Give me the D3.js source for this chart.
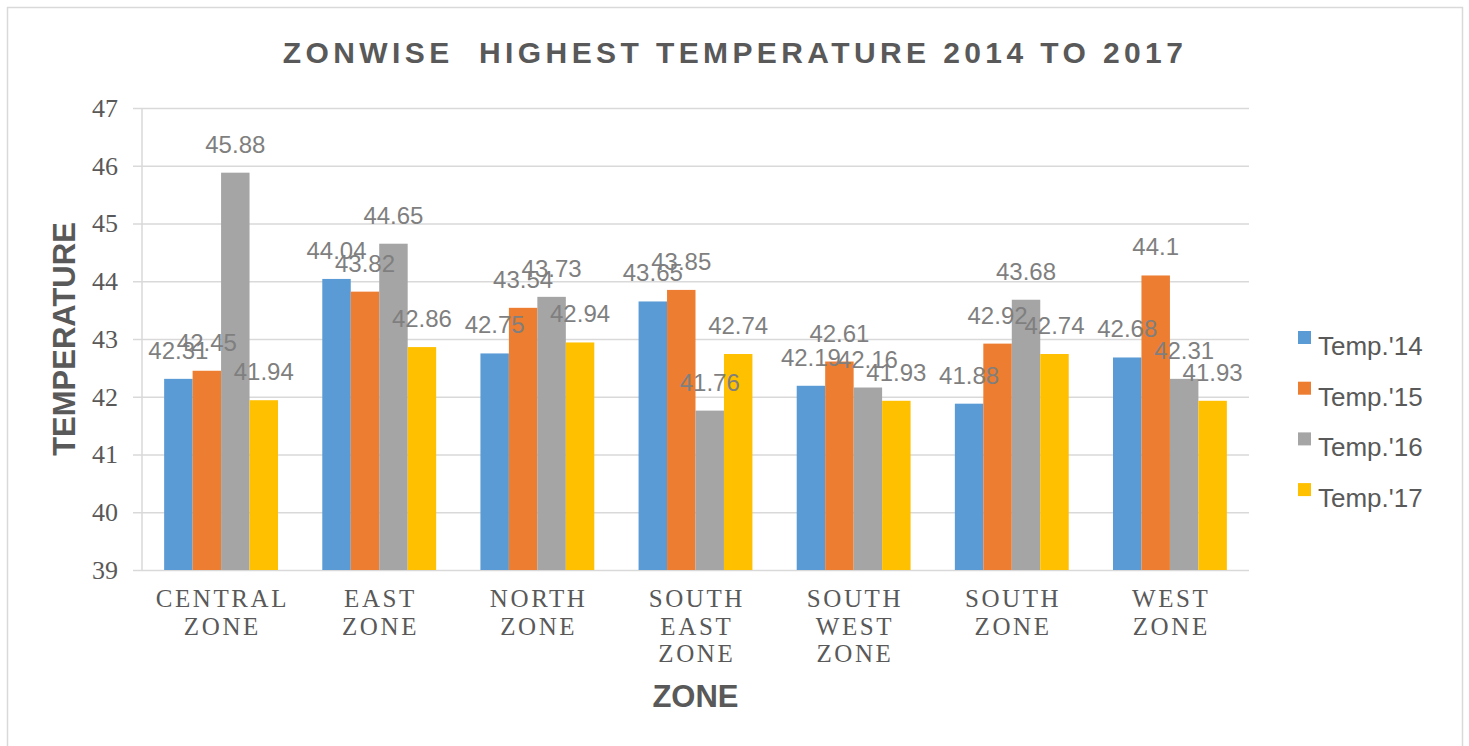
<!DOCTYPE html>
<html><head><meta charset="utf-8">
<script src="https://cdn.jsdelivr.net/npm/d3@7"></script>
<style>
html,body{margin:0;padding:0;background:#fff;}
svg{display:block;}
</style></head>
<body>
<svg id="chart" width="1469" height="746"></svg>
<script>
const categories = ["CENTRAL ZONE","EAST ZONE","NORTH ZONE","SOUTH EAST ZONE","SOUTH WEST ZONE","SOUTH ZONE","WEST ZONE"];
const seriesNames = ["Temp.'14","Temp.'15","Temp.'16","Temp.'17"];
const temp14 = [42.31,44.04,42.75,43.65,42.19,41.88,42.68];
const temp15 = [42.45,43.82,43.54,43.85,42.61,42.92,44.1];
const temp16 = [45.88,44.65,43.73,41.76,42.16,43.68,42.31];
const temp17 = [41.94,42.86,42.94,42.74,41.93,42.74,41.93];
const yTicks = [39,40,41,42,43,44,45,46,47];
const colors = ["#5B9BD5","#ED7D31","#A5A5A5","#FFC000"];
const titleText = "ZONWISE\u00A0\u00A0HIGHEST TEMPERATURE 2014 TO 2017";

(function(){
const seriesValues = [temp14,temp15,temp16,temp17];
const svg = d3.select("#chart");
const sans = "'Liberation Sans', Arial, sans-serif";
const serif = "'Liberation Serif', 'Times New Roman', serif";
const textCol = "#595959";

// outer border
svg.append("rect").attr("x",7.5).attr("y",7.5).attr("width",1455).attr("height",760)
  .attr("fill","#fff").attr("stroke","#d9d9d9").attr("stroke-width",1.5);

const pLeft = 142, pRight = 1249, pTop = 108, pBottom = 570;
const x = d3.scaleBand().domain(categories).range([pLeft,pRight]).paddingInner(0.28).paddingOuter(0.14);
const xs = d3.scaleBand().domain(seriesNames).range([0,x.bandwidth()]);
const y = d3.scaleLinear().domain([39,47]).range([pBottom,pTop]);

// gridlines + y labels
const yAxis = d3.axisLeft(y).tickValues(yTicks).tickSize(pRight-133).tickPadding(15).tickFormat(d3.format("d"));
const gy = svg.append("g").attr("transform",`translate(${pRight},0)`).call(yAxis)
  .attr("font-family",serif).attr("font-size",26);
gy.select(".domain").remove();
gy.selectAll(".tick line").attr("stroke","#d9d9d9").attr("stroke-width",1.5);
gy.selectAll(".tick text").attr("font-family",serif).attr("font-size",26).attr("fill",textCol);

// left axis line
svg.append("line").attr("x1",pLeft).attr("x2",pLeft).attr("y1",y(47)).attr("y2",y(39))
  .attr("stroke","#d9d9d9").attr("stroke-width",1.5);

// bars
const groups = svg.append("g").selectAll("g").data(categories).join("g")
  .attr("transform",d=>`translate(${x(d)},0)`);
groups.selectAll("rect").data((d,i)=>seriesNames.map((s,j)=>({s,j,v:seriesValues[j][i]}))).join("rect")
  .attr("x",d=>xs(d.s)).attr("width",xs.bandwidth())
  .attr("y",d=>y(d.v)).attr("height",d=>y(39)-y(d.v))
  .attr("fill",d=>colors[d.j]);

// data labels
const labels = svg.append("g");
categories.forEach((c,i)=>{
  seriesNames.forEach((s,j)=>{
    const v = seriesValues[j][i];
    labels.append("text").attr("x",x(c)+xs(s)+xs.bandwidth()/2).attr("y",y(v)-20)
      .attr("text-anchor","middle").attr("font-family",sans).attr("font-size",24)
      .attr("fill","#7F7F7F").text(String(v));
  });
});

// x axis category labels
const xAxis = d3.axisBottom(x).tickSize(0).tickFormat("");
const gx = svg.append("g").attr("transform",`translate(0,${pBottom})`).call(xAxis);
gx.select(".domain").remove();
gx.selectAll(".tick").each(function(d){
  const words = d.split(" ");
  const t = d3.select(this).append("text").attr("font-family",serif).attr("font-size",25)
    .attr("fill",textCol).attr("text-anchor","middle").attr("letter-spacing","2.6px");
  words.forEach((w,k)=>{
    t.append("tspan").attr("x",1.3).attr("y",37+k*27.5).text(w);
  });
});

// axis titles
svg.append("text").attr("x",(pLeft+pRight)/2).attr("y",707).attr("text-anchor","middle")
  .attr("font-family",sans).attr("font-weight","bold").attr("font-size",31).attr("fill",textCol).text("ZONE");
svg.append("text").attr("transform",`translate(75,${(pTop+pBottom)/2}) rotate(-90)`).attr("text-anchor","middle")
  .attr("font-family",sans).attr("font-weight","bold").attr("font-size",31).attr("fill",textCol).text("TEMPERATURE");

// title
svg.append("text").attr("x",735).attr("y",63).attr("text-anchor","middle")
  .attr("font-family",sans).attr("font-weight","bold").attr("font-size",30).attr("letter-spacing","4.4px")
  .attr("fill",textCol).text(titleText);

// legend
const lg = svg.append("g").selectAll("g").data(seriesNames).join("g")
  .attr("transform",(d,i)=>`translate(1298,${355+i*50.7})`);
lg.append("rect").attr("x",0).attr("y",-24).attr("width",13).attr("height",13).attr("fill",(d,i)=>colors[i]);
lg.append("text").attr("x",20).attr("y",0).attr("font-family",sans).attr("font-size",26)
  .attr("fill",textCol).text(d=>d);
})();
</script>
</body></html>
